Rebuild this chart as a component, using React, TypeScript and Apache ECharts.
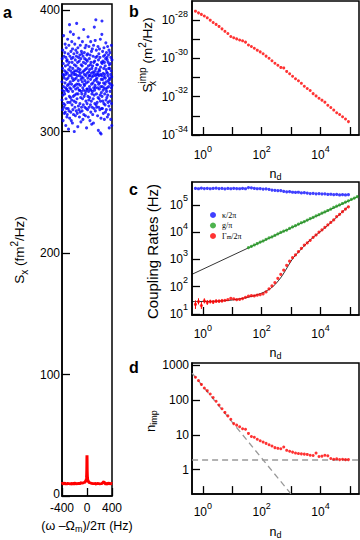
import React, { useEffect, useRef } from 'react';
import * as echarts from 'echarts';

const FONT = "'Liberation Sans', Arial, Helvetica, sans-serif";
const SERIF = "'Liberation Serif', 'DejaVu Serif', serif";

// ---- panel a: spectrum (x in Hz offset, y in fm^2/Hz) ----
const blueA = [
  341,326,360,334,352,318,367,330,347,309,356,337,323,379,346,320,362,333,344,315,
  350,331,365,322,340,372,316,354,336,347,305,361,327,349,369,319,343,335,358,312,
  334,359,314,348,338,376,324,355,344,319,364,333,302,351,339,371,317,346,357,329,
  388,311,336,362,324,353,341,382,328,350,316,366,335,346,309,360,339,326,374,348,
  322,357,344,307,368,333,352,318,361,342,329,380,314,349,337,364,325,347,300,355,
  343,330,372,320,350,338,359,313,347,335,367,324,354,344,317,362,331,389,339,350,
  327,365,315,346,357,336,304,369,331,352,342,321,361,339,377,318,349,334,358,312,
  346,334,363,323,351,316,371,338,348,328,360,308,343,355,333,366,320,345,331,364,
  317,354,341,374,327,349,336,310,362,344,322,357,334,384,314,350,339,329,365,347,
  338,360,320,342,369,331,351,313,356,333,346,325,371,319,359,340,303,352,335,363,
  323,348,358,335,318,364,344,329,378,341,312,354,333,349,326,370,320,346,360,337,
  351,328,346,309,363,335,355,322,343,374,316,357,334,348,325,366,339,306,352,331,
  345,320,368,333,354,314,349,340,362,327,346,307,371,336,357,319,348,330,386,342,
  334,358,323,350,338,375,317,346,336,361,392,352,343,322,367,331,347,320,355,344,
  362,324,341,355,313,349,336,370,328,347,301,359,339,320,364,346,327,351,335,368,
  340,350,318,361,330,299,376,325,353,337,347,311,298,343,332,357,319,346,380,391,
  329,356,337,319,366,343,325,358,334,348,315,362,340,352,323,369,336,345,310,357,
  347,331,363,339,322,354,344,316,360,335,373,326,351,341,318,365,333,349,328,361,
  336,359,312,348,370,330,346,324,357,342,314,363,337,352,321,367,340,303,355,344,
  352,325,343,365,333,318,356,339,347,310,361,329,350,336,371,323,345,305,359,338,
];
const redA: [number, number][] = [
  [-400,10.0],[-390,10.7],[-380,9.6],[-370,10.3],[-360,10.9],[-350,9.8],[-340,10.4],[-330,9.5],
  [-320,10.5],[-310,10.1],[-300,10.8],[-290,9.9],[-280,10.3],[-270,9.6],[-260,10.6],[-250,10.1],
  [-240,9.8],[-230,10.7],[-220,10.2],[-210,9.6],[-200,10.4],[-190,10.9],[-180,10.0],[-170,10.3],
  [-160,9.7],[-150,10.6],[-140,10.2],[-130,10.8],[-120,9.9],[-110,10.5],[-100,10.3],[-90,11.0],
  [-80,10.4],[-70,10.8],[-60,10.5],[-50,11.3],[-40,10.9],[-30,11.7],[-20,12.3],[-15,12.9],
  [-10,14.0],[-7,15.5],[-5,17.5],[-3,21.5],[-2,25.5],[-1,31],[0,33.5],[1,30],[2,24.5],[3,20.5],
  [5,17],[7,15],[10,13.7],[15,12.7],[20,12.0],[30,11.5],[40,10.8],[50,11.1],[60,10.4],[70,10.7],
  [80,10.1],[90,10.5],[100,9.9],[110,10.4],[120,9.8],[130,10.6],[140,10.1],[150,9.7],[160,10.4],
  [170,10.0],[180,10.7],[190,9.9],[200,10.3],[210,9.7],[220,10.5],[230,10.0],[240,10.4],[250,10.8],
  [260,11.3],[270,11.7],[280,10.9],[290,10.3],[300,9.9],[310,10.5],[320,10.1],[330,9.7],[340,10.4],
  [350,10.8],[360,10.0],[370,10.3],[380,9.8],[390,10.5],[400,10.2],
];

// ---- shared drive strength axis (n_d) ----
const nd = [0.56,0.71,0.89,1.12,1.41,1.78,2.24,2.82,3.55,4.47,5.62,7.08,8.91,11.2,14.1,17.8,22.4,28.2,
  35.5,44.7,56.2,70.8,89.1,112,141,178,224,282,355,447,562,708,891,1122,1413,1778,2239,2818,3548,4467,
  5623,7079,8913,11220,14125,17783,22387,28184,35481,44668,56234,70795,89125];

// ---- panel b: S_x^imp (m^2/Hz) ----
const sImp = [2.95e-28,2.4e-28,2.0e-28,1.66e-28,1.32e-28,1.0e-28,7.6e-29,6.0e-29,4.7e-29,3.5e-29,
  2.6e-29,2.0e-29,1.41e-29,1.2e-29,1.05e-29,9.1e-30,8.3e-30,7.1e-30,5.0e-30,4.2e-30,3.4e-30,2.7e-30,
  2.2e-30,1.74e-30,1.32e-30,1.02e-30,7.6e-31,5.6e-31,4.4e-31,3.4e-31,3.2e-31,2.1e-31,1.58e-31,1.17e-31,
  8.7e-32,6.8e-32,5.0e-32,3.5e-32,2.7e-32,2.1e-32,1.45e-32,1.1e-32,8.3e-33,6.6e-33,5.2e-33,3.6e-33,
  2.75e-33,2.0e-33,1.45e-33,1.17e-33,8.9e-34,6.8e-34,5.0e-34];
// the axis works in units of 1e-34 m^2/Hz (tiny values break the log scale's rounding)
const sUnitExp = -34;

// ---- panel c: coupling rates (Hz) ----
const kappa = [4.0e5,3.9e5,4.1e5,3.95e5,4.05e5,3.9e5,4.0e5,4.1e5,3.95e5,4.0e5,3.85e5,4.0e5,3.9e5,4.05e5,
  3.95e5,3.9e5,4.0e5,3.9e5,4.3e5,4.2e5,4.0e5,3.9e5,3.95e5,3.8e5,3.85e5,3.7e5,3.5e5,3.4e5,3.3e5,3.35e5,
  3.1e5,3.0e5,3.05e5,2.9e5,2.85e5,2.9e5,2.75e5,2.8e5,2.7e5,2.6e5,2.65e5,2.55e5,2.6e5,2.5e5,2.55e5,
  2.4e5,2.45e5,2.35e5,2.4e5,2.3e5,2.35e5,2.3e5,2.35e5];
const gStartIndex = 18;
const ndExtra = [112200, 141300, 177800];
const gRate = [2.7e3,3.0e3,3.35e3,3.8e3,4.3e3,4.7e3,5.4e3,6.1e3,6.7e3,7.5e3,8.6e3,9.7e3,1.09e4,1.19e4,
  1.36e4,1.55e4,1.72e4,1.95e4,2.2e4,2.42e4,2.75e4,3.1e4,3.45e4,3.9e4,4.4e4,4.95e4,5.5e4,6.2e4,7.0e4,
  8.0e4,8.9e4,1.0e5,1.12e5,1.27e5,1.41e5,1.58e5,1.78e5,2.0e5];
const gFit: [number, number][] = [[0.43, 282], [204000, 210000]];
const gammaM = [22,28,20,30,26,28,27,29,29,30,31,33,37,35,33,34,36,40,44,46,45,48,50,54,63,82,105,140,
  200,280,400,600,850,1150,1450,1900,2500,3300,4000,5000,6400,7800,10000,12000,15000,18500,22500,
  28000,37000,45000,56000,70000,85000];
const gammaErrLo = [15,22,15,24,21,24,23,25,25,26];
const gammaErrHi = [31,37,27,37,32,33,32,34,33,35];
const gammaFit: [number, number][] = [[0.43,28],[2,28.5],[5,30],[10,32],[20,36],[40,42],[70,50],
  [120,62],[200,85],[300,125],[500,250],[800,580],[1200,1150],[2000,2100],[3500,4000],[6000,6800],
  [10000,10500],[20000,20000],[40000,40000],[89000,88000]];

// ---- panel d: n_imp ----
const nImp = [450,360,280,220,185,148,118,92,72,56,44,35,28,21,19,17,15,14.5,11,9,8.5,7.5,6.8,6.2,
  5.7,5.2,4.8,4.3,4.1,4.0,4.5,3.6,3.4,3.2,3.0,2.9,2.85,2.8,2.75,2.6,2.55,3.0,2.4,2.45,2.6,2.5,2.1,
  2.0,2.05,1.95,2.0,1.95,1.95];
const nImpFloor: [number, number][] = [[0.43, 1.9], [204000, 1.9]];
const nImpSlope: [number, number][] = [[0.43, 590], [1000, 0.2]];

const legendNames = ['κ/2π', 'g/π', 'Γm/2π'];

const supTok = { fontSize: 9, lineHeight: 9, verticalAlign: 'top', fontFamily: FONT, color: '#000' };
const subTok = { fontSize: 9, lineHeight: 9, verticalAlign: 'bottom', fontFamily: FONT, color: '#000' };
const supTokL = { fontSize: 10, lineHeight: 10, verticalAlign: 'top', fontFamily: FONT, color: '#000' };
const subTokL = { fontSize: 10, lineHeight: 10, verticalAlign: 'bottom', fontFamily: FONT, color: '#000' };

const evenDecade = (v: number) => {
  const e = Math.round(Math.log10(v));
  return e % 2 === 0 ? `10{s|${e}}` : '';
};
const evenDecadeS = (v: number) => {
  const e = Math.round(Math.log10(v)) + sUnitExp;
  return e % 2 === 0 ? `10{s|${e}}` : '';
};
const allDecade = (v: number) => `10{s|${Math.round(Math.log10(v))}}`;

const axisLine = { show: true, onZero: false, lineStyle: { color: '#000', width: 1.5 } };
const axisTick = { show: true, inside: true, length: 8, lineStyle: { color: '#000', width: 1.3 } };

function logX(gridIndex: number, margin: number, nameGap: number) {
  return {
    type: 'log', logBase: 10, gridIndex, min: 0.427, max: 204000,
    axisLine, axisTick, splitLine: { show: false }, minorTick: { show: false },
    axisLabel: {
      color: '#000', fontFamily: FONT, fontSize: 12, lineHeight: 22, margin,
      showMinLabel: false, showMaxLabel: false, formatter: evenDecade, rich: { s: supTok },
    },
    name: 'n{d|d}', nameLocation: 'middle', nameGap,
    nameTextStyle: { color: '#000', fontFamily: FONT, fontSize: 12.5, lineHeight: 15, rich: { d: subTok } },
  };
}

export default function App() {
  const ref = useRef<HTMLDivElement>(null);
  useEffect(() => {
    if (!ref.current) return;
    const chart = echarts.init(ref.current, undefined, { renderer: 'svg' });
    const blueStep = 800 / (blueA.length - 1);
    const sScale = Math.pow(10, -sUnitExp);
    const option: any = {
      animation: false,
      backgroundColor: '#fff',
      grid: [
        { left: 62, top: 4, width: 50, height: 492, show: true, borderColor: '#000', borderWidth: 1.5 },
        { left: 192, top: 1, width: 167, height: 134, show: true, borderColor: '#000', borderWidth: 1.5 },
        { left: 192, top: 182, width: 167, height: 133, show: true, borderColor: '#000', borderWidth: 1.5 },
        { left: 192, top: 363, width: 167, height: 132, show: true, borderColor: '#000', borderWidth: 1.5 },
      ],
      xAxis: [
        {
          type: 'value', gridIndex: 0, min: -400, max: 400, interval: 400,
          axisLine, axisTick, splitLine: { show: false },
          axisLabel: { color: '#000', fontFamily: FONT, fontSize: 12, lineHeight: 12, margin: 6 },
          name: '(ω –Ω{m|m})/2π (Hz)', nameLocation: 'middle', nameGap: 16,
          nameTextStyle: { color: '#000', fontFamily: FONT, fontSize: 12.5, lineHeight: 15, rich: { m: subTok } },
        },
        logX(1, 9, 24),
        logX(2, 8, 26),
        logX(3, 7, 24),
      ],
      yAxis: [
        {
          type: 'value', gridIndex: 0, min: 0, max: 405, interval: 100,
          axisLine, axisTick, splitLine: { show: false },
          axisLabel: {
            color: '#000', fontFamily: FONT, fontSize: 12, lineHeight: 9, margin: 2, showMaxLabel: false,
            formatter: (v: number) => (v === 0 ? '{z|0}' : String(v)),
            rich: { z: { fontFamily: FONT, fontSize: 12, lineHeight: 9, color: '#000', padding: [0, 0, 4, 0] } },
          },
          name: 'S{x|x} (fm{s|2}/Hz)', nameLocation: 'middle', nameGap: 33, nameRotate: 90,
          nameTextStyle: { color: '#000', fontFamily: FONT, fontSize: 13.5, lineHeight: 20, rich: { x: subTokL, s: supTokL } },
        },
        {
          type: 'log', logBase: 10, gridIndex: 1, min: 1, max: 1e7,
          axisLine, axisTick, splitLine: { show: false },
          axisLabel: {
            color: '#000', fontFamily: FONT, fontSize: 12, lineHeight: 22, margin: 4,
            showMinLabel: true, showMaxLabel: false, formatter: evenDecadeS, rich: { s: supTok },
          },
        },
        {
          type: 'log', logBase: 10, gridIndex: 2, min: 9, max: 6.9e5,
          axisLine, axisTick, splitLine: { show: false },
          axisLabel: {
            color: '#000', fontFamily: FONT, fontSize: 12, lineHeight: 22, margin: 4,
            showMinLabel: false, showMaxLabel: false, formatter: allDecade, rich: { s: supTok },
          },
          name: 'Coupling Rates (Hz)', nameLocation: 'middle', nameGap: 31, nameRotate: 90,
          nameTextStyle: { color: '#000', fontFamily: FONT, fontSize: 15, lineHeight: 17, padding: [0, 6, 0, 0] },
        },
        {
          type: 'log', logBase: 10, gridIndex: 3, min: 0.2, max: 1150,
          axisLine, axisTick, splitLine: { show: false },
          axisLabel: {
            color: '#000', fontFamily: FONT, fontSize: 12, margin: 3,
            showMinLabel: false, showMaxLabel: false, formatter: (v: number) => String(Math.round(v)),
          },
          name: 'n{i|imp}', nameLocation: 'middle', nameGap: 33, nameRotate: 90,
          nameTextStyle: { color: '#000', fontFamily: FONT, fontSize: 13, lineHeight: 15, padding: [0, 0, 0, 15], rich: { i: subTok } },
        },
      ],
      legend: {
        data: legendNames, orient: 'vertical', left: 205, top: 206, itemWidth: 6, itemHeight: 6,
        itemGap: 2.5, icon: 'circle', selectedMode: false,
        textStyle: {
          color: '#000', fontFamily: SERIF, fontSize: 8, lineHeight: 8, padding: [0, 0, 0, 1],
          rich: { m: { fontFamily: SERIF, fontSize: 6, lineHeight: 6, verticalAlign: 'bottom', color: '#000' } },
        },
        formatter: (n: string) => (n === 'Γm/2π' ? 'Γ{m|m}/2π' : n),
      },
      graphic: [
        { type: 'text', x: 3, y: 12.5, style: { text: 'a', font: `bold 16px ${FONT}`, fill: '#000', verticalAlign: 'middle' } },
        { type: 'text', x: 129, y: 11, style: { text: 'b', font: `bold 16px ${FONT}`, fill: '#000', verticalAlign: 'middle' } },
        { type: 'text', x: 129, y: 189.5, style: { text: 'c', font: `bold 16px ${FONT}`, fill: '#000', verticalAlign: 'middle' } },
        { type: 'text', x: 129, y: 367.5, style: { text: 'd', font: `bold 16px ${FONT}`, fill: '#000', verticalAlign: 'middle' } },
        {
          type: 'text', x: 147, y: 55, rotation: Math.PI / 2,
          style: {
            text: 'S{x|x}{i|imp} (m{s|2}/Hz)', fontFamily: FONT, fontSize: 13.5, lineHeight: 20, fill: '#000',
            align: 'center', verticalAlign: 'middle',
            rich: { x: { ...subTokL, width: 0 }, i: supTokL, s: supTokL },
          },
        },
      ],
      series: [
        {
          name: 'blueA', type: 'scatter', xAxisIndex: 0, yAxisIndex: 0, symbolSize: 3.1,
          itemStyle: { color: '#0000ff' },
          data: blueA.map((y, i) => [-400 + i * blueStep, y]),
        },
        {
          name: 'redA', type: 'line', xAxisIndex: 0, yAxisIndex: 0, showSymbol: false, symbol: 'none',
          lineStyle: { color: '#ff0000', width: 3 }, data: redA,
        },
        {
          name: 'sImp', type: 'scatter', xAxisIndex: 1, yAxisIndex: 1, symbolSize: 3,
          itemStyle: { color: '#ff0000' }, data: nd.map((x, i) => [x, sImp[i] * sScale]),
        },
        {
          name: 'gFit', type: 'line', xAxisIndex: 2, yAxisIndex: 2, symbol: 'none',
          lineStyle: { color: '#000', width: 0.8 }, data: gFit, z: 1,
        },
        {
          name: 'gammaFit', type: 'line', xAxisIndex: 2, yAxisIndex: 2, symbol: 'none', smooth: 0.3,
          lineStyle: { color: '#000', width: 0.8 }, data: gammaFit, z: 1,
        },
        {
          name: 'gammaErr', type: 'custom', xAxisIndex: 2, yAxisIndex: 2, z: 2,
          data: gammaErrLo.map((lo, i) => [nd[i], lo, gammaErrHi[i]]),
          encode: { x: 0, y: [1, 2] },
          renderItem: (params: any, api: any) => {
            const x = api.value(0);
            const p1 = api.coord([x, api.value(1)]);
            const p2 = api.coord([x, api.value(2)]);
            return {
              type: 'line',
              shape: { x1: p1[0], y1: p1[1], x2: p2[0], y2: p2[1] },
              style: { stroke: '#ff0000', lineWidth: 1 },
            };
          },
        },
        {
          name: legendNames[0], type: 'scatter', xAxisIndex: 2, yAxisIndex: 2, symbolSize: 3.2,
          itemStyle: { color: '#1010ff' }, data: nd.map((x, i) => [x, kappa[i]]),
        },
        {
          name: legendNames[1], type: 'scatter', xAxisIndex: 2, yAxisIndex: 2, symbolSize: 3.2,
          itemStyle: { color: '#22a022' },
          data: nd.slice(gStartIndex).concat(ndExtra).map((x, i) => [x, gRate[i]]),
        },
        {
          name: legendNames[2], type: 'scatter', xAxisIndex: 2, yAxisIndex: 2, symbolSize: 3.2,
          itemStyle: { color: '#ff0000' }, data: nd.map((x, i) => [x, gammaM[i]]),
        },
        {
          name: 'floor', type: 'line', xAxisIndex: 3, yAxisIndex: 3, symbol: 'none',
          lineStyle: { color: '#999', width: 1.3, type: [6, 4] }, data: nImpFloor, z: 1,
        },
        {
          name: 'slope', type: 'line', xAxisIndex: 3, yAxisIndex: 3, symbol: 'none',
          lineStyle: { color: '#999', width: 1.3, type: [6, 4] }, data: nImpSlope, z: 1,
        },
        {
          name: 'nImp', type: 'scatter', xAxisIndex: 3, yAxisIndex: 3, symbolSize: 3,
          itemStyle: { color: '#ff0000' }, data: nd.map((x, i) => [x, nImp[i]]),
        },
      ],
    };
    chart.setOption(option);
    return () => chart.dispose();
  }, []);
  return <div ref={ref} style={{ position: 'absolute', left: 0, top: 0, width: 360, height: 540 }} />;
}
